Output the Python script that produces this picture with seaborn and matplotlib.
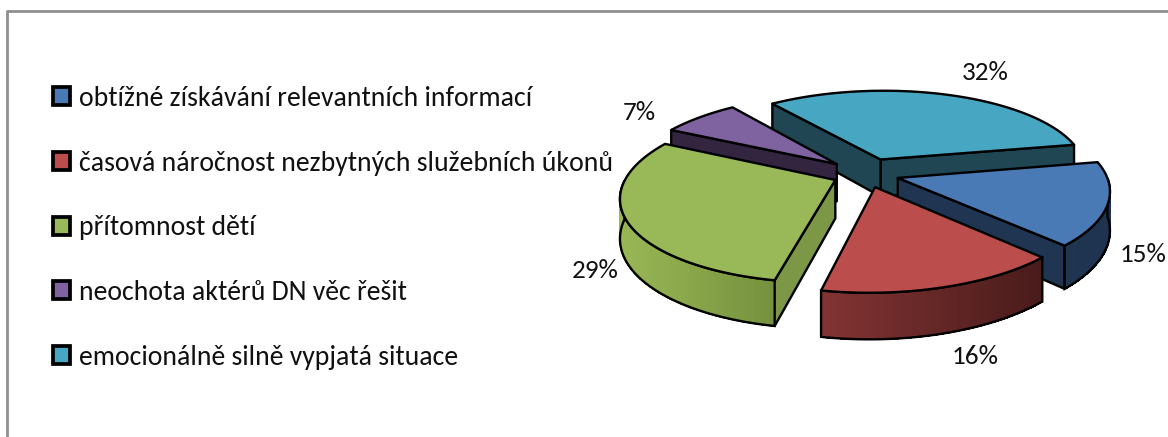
import numpy as np
import matplotlib
matplotlib.use('Agg')
import matplotlib.pyplot as plt
import seaborn as sns
from matplotlib.patches import Patch

# --- data ---
categories = ['obtížné získávání relevantních informací',
              'časová náročnost nezbytných služebních úkonů',
              'přítomnost dětí',
              'neochota aktérů DN věc řešit',
              'emocionálně silně vypjatá situace']
values = [15.49, 15.6, 29.4, 7.0, 32.49]

# --- styles ---
top_colors = ['#4a7ab6', '#bb4e4c', '#99b958', '#7f63a1', '#47a7c2']
wall_colors = [('#203550', '#1e3350'), ('#823333', '#481b1a'), ('#99b755', '#74903d'),
               ('#33243f', '#33243f'), ('#1f4652', '#1f4652')]
cut_colors = ['#1f3552', '#4a1c1c', '#7c9746', '#33243f', '#1f4652']
explode = [0.16, 0.16, 0.16, 0.19, 0.19]
draw_order = [4, 3, 0, 2, 1]
label_pos = [(1143, 254), (975, 357), (595, 270), (639, 112), (985, 73)]

# projection of the pie plane into pixels
CX, CY, SX, SY, PERSP, DEPTH, SHEAR = 866, 174, 208, 84, 0.16, 38, 0.03


def project(u, v, z=0.0):
    u, v = np.asarray(u), np.asarray(v)
    w = 1 + PERSP * v
    return CX + SX * (u + SHEAR * v) / w, CY - SY * v / w + DEPTH * z / w


sns.set_theme(style='white')
plt.rcParams['font.family'] = ['Carlito', 'Lato', 'DejaVu Sans']

fig = plt.figure(figsize=(11.68, 4.37), dpi=100)
ax = fig.add_axes([0, 0, 1, 1])

# the pie gives angles and exploded centres, the wedges are then redrawn in perspective
wedges, _ = ax.pie(values, startangle=11, counterclock=False, radius=1.0, explode=explode)
slices = [(w.center[0], w.center[1], w.theta1, w.theta2) for w in wedges]
for w in wedges:
    w.remove()

ax.set_aspect('auto')
ax.set_xlim(0, 1168)
ax.set_ylim(437, 0)
ax.axis('off')


def face(xs, ys, color, lw=1.7, z=3):
    ax.fill(xs, ys, facecolor=color, edgecolor='black', linewidth=lw, joinstyle='round', zorder=z)


for zi, i in enumerate(draw_order):
    cu, cv, t1, t2 = slices[i]
    z = 3 + zi
    angles = np.radians(np.linspace(t1, t2, 90))
    au, av = cu + np.cos(angles), cv + np.sin(angles)

    # cut faces that look towards the viewer
    for t, normal in ((t1, t1 - 90), (t2, t2 + 90)):
        if np.sin(np.radians(normal)) < 0:
            eu, ev = cu + np.cos(np.radians(t)), cv + np.sin(np.radians(t))
            x0, y0 = project(cu, cv)
            x1, y1 = project(eu, ev)
            x2, y2 = project(eu, ev, 1)
            x3, y3 = project(cu, cv, 1)
            face([x0, x1, x2, x3], [y0, y1, y2, y3], cut_colors[i], z=z)

    # outer wall, shaded along its length
    front = np.sin(angles) < 0
    if front.any():
        xt, yt = project(au[front], av[front])
        xb, yb = project(au[front], av[front], 1)
        shades = sns.blend_palette(wall_colors[i], 40)
        pos = (xt - xt.min()) / (xt.max() - xt.min())
        for k in range(len(xt) - 1):
            c = shades[int(pos[k] * 39)]
            ax.fill([xt[k], xt[k + 1], xb[k + 1], xb[k]], [yt[k], yt[k + 1], yb[k + 1], yb[k]],
                    facecolor=c, edgecolor=c, linewidth=0.8, antialiased=False, zorder=z)
        ax.fill(np.r_[xt, xb[::-1]], np.r_[yt, yb[::-1]], facecolor='none',
                edgecolor='black', linewidth=1.7, zorder=z)

    # top of the slice
    xs, ys = project(np.r_[cu, au], np.r_[cv, av])
    face(xs, ys, top_colors[i], z=z)

for val, (lx, ly) in zip(values, label_pos):
    ax.text(lx, ly, f'{val:.0f}%', ha='center', va='center', fontsize=19.5, color='#111111', zorder=20)

# chart frame, only top and left are in the crop
ax.plot([7, 7, 1168], [437, 11, 11], color='#8e8e8e', linewidth=2, zorder=1, clip_on=False)

handles = [Patch(facecolor=c, edgecolor='black', linewidth=2.7, joinstyle='round') for c in top_colors]
ax.legend(handles, categories, loc='upper left', bbox_to_anchor=(53 / 1168, 1 - 86 / 437),
          frameon=False, fontsize=20, labelspacing=1.43, handlelength=0.62, handleheight=0.62,
          handletextpad=0.3, borderpad=0, borderaxespad=0, labelcolor='#111111')

fig.savefig('out.png', dpi=100)
